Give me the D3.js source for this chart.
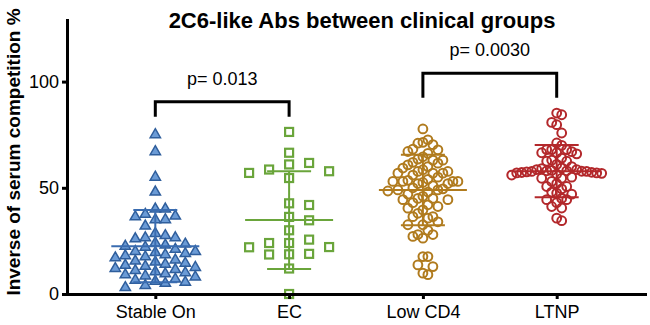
<!DOCTYPE html>
<html>
<head>
<meta charset="utf-8">
<script src="https://cdn.jsdelivr.net/npm/d3@7"></script>
<style>
body { margin: 0; background: #fff; }
text { font-family: "Liberation Sans", Arial, Helvetica, sans-serif; }
</style>
</head>
<body>
<div id="chart"></div>
<script>
// categories and values
var groups = ["Stable On", "EC", "Low CD4", "LTNP"];

var stableOn = [75, 67, 55, 48, 40, 40, 37.5, 36.7, 36.3, 35, 35, 32, 28.5, 27.5, 26.5, 26.5, 26, 24, 23.5, 23,
    22.5, 22, 21, 20, 20, 19.5, 19, 18.5, 18, 17.5, 17, 16, 15.5, 15, 14.5, 14, 13.5, 13, 12.5, 12,
    11.5, 11, 10.5, 10, 9.5, 9, 8.5, 8, 7, 6.5, 6, 5.5, 5, 4, 3];

var ec = [76.3, 66.5, 61.7, 61, 58.6, 57.8, 57, 54.6, 42.7, 41.9, 36.3, 34.7, 30, 25.6, 24, 24,
    22.1, 22, 18.9, 18.7, 18.6, 12, 0];

var lowCD4 = [77.7, 72.6, 71.4, 71, 70.3, 68.2, 67.9, 67.1, 66.2, 64.6, 63.5, 63, 63, 62, 61.6, 60.8, 60, 59.3,
    58.5, 57.7, 57.7, 56.9, 56.9, 56.9, 56, 55, 54, 53.5, 53, 53, 53, 53, 52.5, 52, 52, 51, 50, 49.5, 49, 49,
    48.5, 48, 47, 46, 45, 45, 44.4, 44.4, 43, 42, 41.2, 40.4, 39.6, 38, 36.4, 36.4, 35.7, 34, 32.6, 32.6,
    30, 28, 28, 27.1, 26.3, 17.6, 17.6, 13.7, 12.9, 9.8, 9.1];

var ltnp = [85.2, 84.4, 80.8, 79.7, 75.8, 71.1, 70, 68, 68, 68, 67, 66.5, 66.5, 66, 64, 63, 62.5, 62.5, 61, 60,
    59.4, 59, 58.6, 58.6, 58.2, 58, 58, 57.8, 57.7, 57.7, 57.5, 57.3, 57.2, 57, 57, 56.8, 56.5, 56, 55, 54.5,
    54.5, 53, 52, 50.6, 50.6, 49.5, 48, 47.5, 47, 45, 44.4, 44.4, 43, 41.2, 40.5, 35.7, 34.5];

// mean and SD bars as drawn in the figure
var groupMeans = [22.5, 34.8, 49.0, 57.8];
var groupSDs = [17.0, 23.0, 16.6, 12.3];

var yTicks = [0, 50, 100];

var comparisons = [
    ["Stable On", "EC", "p= 0.013"],
    ["Low CD4", "LTNP", "p= 0.0030"]
];

var width = 650, height = 325;

var svg = d3.select("#chart").append("svg")
    .attr("width", width)
    .attr("height", height);

var x = d3.scalePoint()
    .domain(groups)
    .range([67, 645])
    .padding(0.66);

var y = d3.scaleLinear()
    .domain([0, 129])
    .range([294, 20]);

// per group look: colour, marker and swarm spacing
var styles = [
    { values: stableOn, color: "#3a6cb0", marker: "triangle", step: 10, dy: 8.5 },
    { values: ec, color: "#6aa53b", marker: "square", step: 20, dy: 11 },
    { values: lowCD4, color: "#b07b1e", marker: "circle", step: 5, dy: 12 },
    { values: ltnp, color: "#b3282b", marker: "circle", step: 5, dy: 9.5 }
];

// simple column based swarm, values with similar y get pushed sideways
function swarm(values, cx, step, dyMin) {
    var placed = [];
    var sorted = values.slice().sort(function (a, b) { return b - a; });
    sorted.forEach(function (v) {
        var py = y(v);
        for (var k = 0; k < 200; k++) {
            var off = (k % 2 === 1 ? 1 : -1) * Math.ceil(k / 2) * step;
            var px = cx + off;
            var hit = placed.some(function (p) {
                return Math.abs(p.x - px) < step * 0.99 && Math.abs(p.y - py) < dyMin;
            });
            if (!hit) {
                placed.push({ x: px, y: py, v: v });
                break;
            }
        }
    });
    return placed;
}

styles.forEach(function (s, i) {
    var pts = swarm(s.values, x(groups[i]), s.step, s.dy);
    var g = svg.append("g");
    if (s.marker === "triangle") {
        g.selectAll("path").data(pts).enter().append("path")
            .attr("d", d3.symbol(d3.symbolTriangle, 46))
            .attr("transform", function (d) { return "translate(" + d.x + "," + d.y + ")"; })
            .attr("fill", "#6b9bd6")
            .attr("stroke", "#2f5e9c")
            .attr("stroke-width", 1.5);
    } else if (s.marker === "square") {
        g.selectAll("rect").data(pts).enter().append("rect")
            .attr("x", function (d) { return d.x - 4; })
            .attr("y", function (d) { return d.y - 4; })
            .attr("width", 8)
            .attr("height", 8)
            .attr("fill", "none")
            .attr("stroke", s.color)
            .attr("stroke-width", 2.2);
    } else {
        g.selectAll("circle").data(pts).enter().append("circle")
            .attr("cx", function (d) { return d.x; })
            .attr("cy", function (d) { return d.y; })
            .attr("r", 4.4)
            .attr("fill", "none")
            .attr("stroke", s.color)
            .attr("stroke-width", 2);
    }

    // mean +/- SD
    var cx = x(groups[i]), m = groupMeans[i], sd = groupSDs[i];
    var bars = svg.append("g")
        .attr("stroke", s.color)
        .attr("stroke-width", 2);
    bars.append("line")
        .attr("x1", cx - 44).attr("x2", cx + 44)
        .attr("y1", y(m)).attr("y2", y(m));
    [m - sd, m + sd].forEach(function (v) {
        bars.append("line")
            .attr("x1", cx - 22).attr("x2", cx + 22)
            .attr("y1", y(v)).attr("y2", y(v));
    });
    bars.append("line")
        .attr("x1", cx).attr("x2", cx)
        .attr("y1", y(m - sd)).attr("y2", y(m + sd));
});

// axes
var yAxis = svg.append("g")
    .attr("transform", "translate(67,0)")
    .call(d3.axisLeft(y).tickValues(yTicks).tickSize(5).tickSizeOuter(0).tickPadding(3));

var xAxis = svg.append("g")
    .attr("transform", "translate(0,294)")
    .call(d3.axisBottom(x).tickSize(5).tickSizeOuter(0).tickPadding(6));

[yAxis, xAxis].forEach(function (ax) {
    ax.select(".domain").attr("stroke-width", 3).attr("stroke-linecap", "square");
    ax.selectAll(".tick line").attr("stroke-width", 3);
    ax.selectAll("text").attr("font-size", 18).attr("fill", "#000")
        .style("font-family", "'Liberation Sans', Arial, sans-serif");
});

// significance brackets
var bracketLevels = [{ top: 101.7, bottom: 116.7 }, { top: 73.3, bottom: 97.7 }];
comparisons.forEach(function (c, i) {
    var x1 = x(c[0]), x2 = x(c[1]), b = bracketLevels[i];
    svg.append("path")
        .attr("d", "M" + x1 + "," + b.bottom + "V" + b.top + "H" + x2 + "V" + b.bottom)
        .attr("fill", "none")
        .attr("stroke", "#000")
        .attr("stroke-width", 3);
    svg.append("text")
        .attr("x", (x1 + x2) / 2)
        .attr("y", b.top - 17)
        .attr("text-anchor", "middle")
        .attr("font-size", 18)
        .text(c[2]);
});

// titles
svg.append("text")
    .attr("x", 362)
    .attr("y", 28)
    .attr("text-anchor", "middle")
    .attr("font-size", 22)
    .attr("font-weight", "bold")
    .text("2C6-like Abs between clinical groups");

svg.append("text")
    .attr("transform", "translate(20,152) rotate(-90)")
    .attr("text-anchor", "middle")
    .attr("font-size", 19)
    .attr("font-weight", "bold")
    .text("Inverse of serum competition %");
</script>
</body>
</html>
